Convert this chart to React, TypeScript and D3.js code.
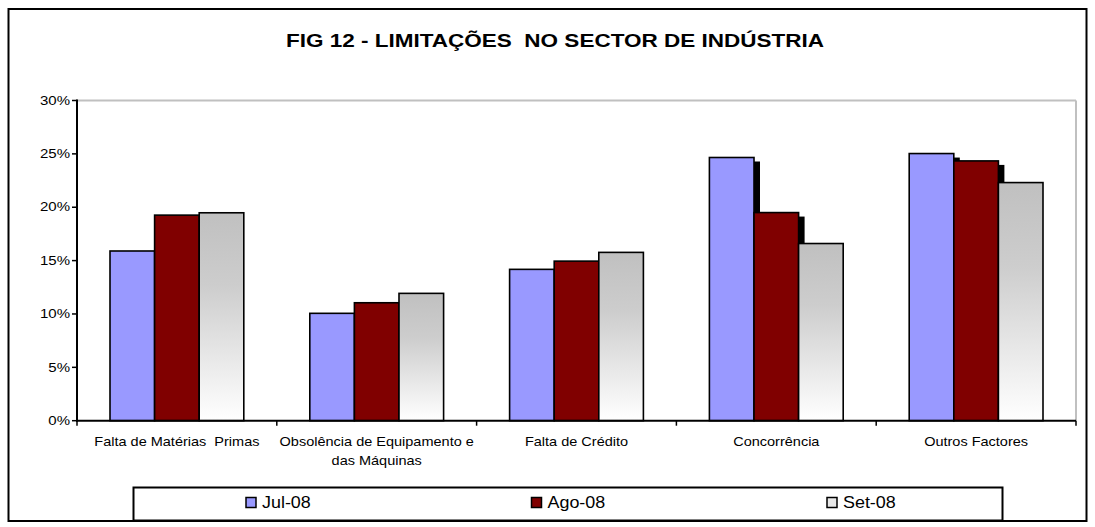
import React from "react";
import * as d3 from "d3";

const categories = [
  ["Falta de Matérias  Primas"],
  ["Obsolência de Equipamento e", "das Máquinas"],
  ["Falta de Crédito"],
  ["Concorrência"],
  ["Outros Factores"],
];
const seriesNames = ["Jul-08", "Ago-08", "Set-08"];
const jul = [0.159, 0.1006, 0.1418, 0.2466, 0.2503];
const ago = [0.1926, 0.1105, 0.1495, 0.195, 0.2434];
const set = [0.1948, 0.1193, 0.1577, 0.166, 0.2231];
const yTicks = [0, 0.05, 0.1, 0.15, 0.2, 0.25, 0.3];

const W = 1095;
const H = 527;
const plot = { left: 77, right: 1076, top: 100.5, bottom: 420.7 };
const FONT = "'Liberation Sans', Arial, sans-serif";

export default function App() {
  const series = [jul, ago, set];
  const fills = ["#9999ff", "#800000", "url(#setGrad)"];
  const x0 = d3
    .scaleBand<number>()
    .domain(d3.range(categories.length))
    .range([plot.left, plot.right])
    .paddingInner(0)
    .paddingOuter(0);
  const bw = x0.bandwidth();
  const groupW = bw * (3 / 4.48);
  const x1 = d3
    .scaleBand<number>()
    .domain([0, 1, 2])
    .range([(bw - groupW) / 2, (bw + groupW) / 2]);
  const y = d3.scaleLinear().domain([0, 0.3]).range([plot.bottom, plot.top]);
  const fmt = d3.format(".0%");

  const legendItems = [
    { x: 246, name: seriesNames[0], fill: fills[0] },
    { x: 531.5, name: seriesNames[1], fill: fills[1] },
    { x: 827, name: seriesNames[2], fill: "#e8e8e8" },
  ];

  return (
    <svg
      width={W}
      height={H}
      style={{ position: "absolute", left: 0, top: 0 }}
      fontFamily={FONT}
    >
      <defs>
        <linearGradient id="setGrad" x1="0" y1="0" x2="0" y2="1">
          <stop offset="0" stopColor="#c0c0c0" />
          <stop offset="0.35" stopColor="#cdcdcd" />
          <stop offset="1" stopColor="#ffffff" />
        </linearGradient>
      </defs>
      <rect x={0} y={0} width={W} height={H} fill="#fff" />
      <rect
        x={8.5}
        y={9}
        width={1078}
        height={512}
        fill="none"
        stroke="#000"
        strokeWidth={2}
      />
      <text
        x={555}
        y={46.5}
        textAnchor="middle"
        fontWeight="bold"
        fontSize={19}
        textLength={538}
        lengthAdjust="spacingAndGlyphs"
        style={{ whiteSpace: "pre" }}
      >
        FIG 12 - LIMITAÇÕES  NO SECTOR DE INDÚSTRIA
      </text>

      <line x1={plot.left} x2={plot.right} y1={plot.top} y2={plot.top} stroke="#c0c0c0" strokeWidth={2} />
      <line x1={plot.right} x2={plot.right} y1={plot.top} y2={plot.bottom} stroke="#c0c0c0" strokeWidth={2} />

      {categories.map((_, ci) => (
        <g key={ci} transform={`translate(${x0(ci)},0)`}>
          {series.map((s, si) => {
            const bx = x1(si)!;
            const by = y(s[ci]);
            const h = plot.bottom - by;
            return (
              <g key={si}>
                {si < 2 && (
                  <rect x={bx + 6} y={by + 4} width={x1.bandwidth()} height={h - 4} fill="#000" />
                )}
                <rect
                  x={bx}
                  y={by}
                  width={x1.bandwidth()}
                  height={h}
                  fill={fills[si]}
                  stroke="#000"
                  strokeWidth={1.6}
                />
              </g>
            );
          })}
        </g>
      ))}

      <line x1={plot.left} x2={plot.left} y1={plot.top - 1} y2={plot.bottom + 1} stroke="#000" strokeWidth={2} />
      <line x1={plot.left - 1} x2={plot.right} y1={plot.bottom} y2={plot.bottom} stroke="#000" strokeWidth={2} />
      {yTicks.map((t) => (
        <g key={t}>
          <line x1={plot.left - 5} x2={plot.left} y1={y(t)} y2={y(t)} stroke="#000" strokeWidth={1.5} />
          <g transform={`translate(${plot.left - 7},${y(t)}) scale(1.25,1)`}>
            <text x={0} y={0} dy="0.35em" textAnchor="end" fontSize={12} fill="#000">
              {fmt(t)}
            </text>
          </g>
        </g>
      ))}
      {d3.range(categories.length + 1).map((i) => {
        const xx = plot.left + i * bw;
        return <line key={i} x1={xx} x2={xx} y1={plot.bottom} y2={plot.bottom + 5} stroke="#000" strokeWidth={1.5} />;
      })}
      {categories.map((lines, ci) => (
        <g key={ci} transform={`translate(${x0(ci)! + bw / 2},0) scale(1.18,1)`}>
          <text textAnchor="middle" fontSize={12.3} fill="#000" style={{ whiteSpace: "pre" }}>
            {lines.map((ln, li) => (
              <tspan key={li} x={0} y={446.5 + li * 19}>
                {ln}
              </tspan>
            ))}
          </text>
        </g>
      ))}

      <rect x={133.5} y={487.5} width={869} height={33} fill="#fff" stroke="#000" strokeWidth={2} />
      {legendItems.map((it) => (
        <g key={it.name}>
          <rect x={it.x} y={497.5} width={10} height={10} fill={it.fill} stroke="#000" strokeWidth={1.5} />
          <g transform={`translate(${it.x + 16},508) scale(1.12,1)`}>
            <text x={0} y={0} fontSize={16} fill="#000">
              {it.name}
            </text>
          </g>
        </g>
      ))}
    </svg>
  );
}
